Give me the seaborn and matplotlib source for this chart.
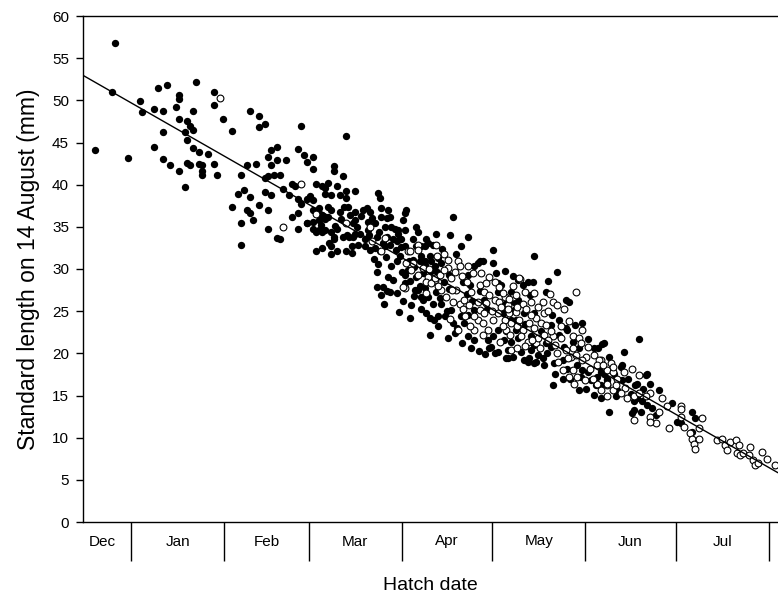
import matplotlib
matplotlib.use("Agg")
import matplotlib.pyplot as plt
import seaborn as sns
import pandas as pd
import numpy as np

# hatch date as days since 1 January (negative = December), length in mm
filled_day = [
    -12, -6.2, -5.2, -1.2, 2.9, 3.7, 7.7, 8.8, 11.8, 7.7, 10.7, 10.7, 10.7, 12.8, 15.8, 15.8, 14.8, 15.8,
    15.8, 17.8, 17.8, 18.6, 19.6, 20.5, 18.6, 20.6, 21.6, 20.6, 22.6, 18.6, 19.6, 22.6, 23.6, 23.6, 23.6,
    25.6, 27.6, 27.6, 27.6, 28.6, 30.5, 33.5, 36.5, 35.5,
    39.5, 42.5, 42.5, 44.6, 56.4, 33.5, 36.5, 37.5, 38.5, 41.5, 39.5, 38.5, 39.5, 40.5, 42.5, 44.6, 45.6,
    46.6, 45.6, 44.6, 45.6, 46.6, 48.6, 46.6, 48.6, 45.6, 47.6, 49.6, 50.6, 52.5, 53.5, 54.5, 51.4, 55.5,
    57.5, 58.5, 60.5, 60.4, 55.5, 56.5, 58.5, 59.5, 53.5, 55.5, 48.6, 49.6, 55.5, 58.5, 60.5, 61.5, 61.3,
    60.5, 60.5, 36.5,
    71.3, 63.3, 64.3, 65.3, 64.3, 66.3, 68.3, 69.3, 70.3, 67.3, 67.3, 71.3, 71.3, 74.3, 62.3, 65.3, 66.3,
    62.3, 63.3, 65.3, 69.3, 74.3, 74.3, 63.3, 64.3, 66.3, 67.3, 67.3, 66.3, 70.3, 72.3, 73.3, 74.3, 61.4,
    63.3, 66.3, 68.3, 71.3, 73.3,
    82.1, 82.7, 59.5, 72.2, 77.2, 78.3, 79.4, 83.2, 85.4, 83.2, 84.9, 91.0, 91.5, 58.4, 62.3, 68.3, 73.8,
    71.6, 73.8, 76.1, 78.8, 78.8, 81.0, 84.3, 86.5, 87.6, 88.7, 91.0, 75.5, 77.7, 79.4, 81.0, 82.7, 84.3,
    86.0, 88.2, 89.3, 94.8, 97.6, 100.3, 101.4, 94.8, 98.1, 81.6, 85.4, 83.8, 86.0, 88.2, 83.2, 91.0, 94.3,
    97.6, 96.5, 93.1, 100.3, 92.0, 97.6, 99.8, 81.6,
    107, 111.9, 120.2, 134, 115.8, 115.2,
    95.4, 109.7, 121.3, 128.5, 88.7, 89.8, 91, 93.7, 96.5, 98.7, 89.3, 93.7, 96.5, 99.2, 102, 91, 94.8, 97,
    100.9, 103.1, 95.4, 98.7, 101.4, 97, 96.5, 103.1, 106.4, 109.7, 104.2, 110.8, 114.1, 111.9, 117.4,
    121.9, 123, 126.3, 128.5, 127.4, 127.9, 121.9, 120.2, 119.6, 121.9, 125.2, 126.8, 107.5, 105.3, 102,
    99.2, 99.2, 111.9, 114.1, 118.5, 110.3, 111.9, 114.1, 116.9, 120.2, 102, 119.1, 120.8, 124.6, 131.8, 134,
    141.7, 131.8, 130.1, 132.5, 137.9, 144.5, 145.6, 150, 157.2, 153.9, 125.2, 130.7, 132.3, 134.5, 137.3,
    140.1, 148.9, 153.9, 158.3, 160.5, 121.9, 124.1, 127.4, 123.5, 126.3, 124.6, 127.9, 130.7, 134, 128.5,
    132.9, 136.2, 139.5, 142.3, 137.9, 139.5, 142.3, 145, 143.9, 146.7, 148.9, 143.4, 145, 148.3, 150,
    151.7, 152.7, 155, 156.1, 132.9, 135.1, 140.6, 143.4,
    156.6, 168.8, 163.8, 158.8, 162.7, 163.2, 171.5, 171, 168.2, 167.6, 172.6, 175.4, 156.1, 157.2, 156.1,
    158.8, 161, 167, 168.2, 169.8, 171.5, 173.2, 174.3, 166.6, 167, 179.8, 169.3,
    181.5, 182.6, 186.4, 187.5, 186.4,
    # denser part of the March-April band
    60.5, 61.8, 63.0, 64.6, 65.8, 67.9, 69.6, 70.8, 72.9, 75.1, 76.4, 77.8, 79.0, 80.2, 81.7, 82.4, 83.6,
    85.0, 85.9, 86.9, 87.9, 89.6, 90.3, 80.6, 82.2, 84.8, 86.4, 88.5, 89.9, 87.2, 85.2, 90.5, 84.1, 88.9,
    92.6,
    92.2, 94.1, 96.0, 97.8, 99.5, 101.8, 103.9, 105.6, 92.8, 94.0, 95.9, 98.0, 100.6, 102.7, 104.9, 106.9,
    108.4, 110.0, 112.8, 115.7, 117.7, 105.8, 107.9, 112.7, 116.0, 118.2, 113.2, 111.6, 103.3, 106.1,
    # May-June
    123.8, 126.2, 129.6, 131.0, 133.8, 136.8, 138.3, 141.0, 146.0, 149.5, 151.2, 154.5, 155.9, 158.0,
    161.5, 163.0, 165.0, 166.0, 170.0, 124.3, 126.9, 133.7, 138.4, 140.0, 144.5, 147.6, 152.0, 155.2,
]
filled_len = [
    44.1, 51.0, 56.8, 43.2, 49.9, 48.6, 49.0, 51.5, 51.8, 44.5, 48.7, 46.2, 43.1, 42.3, 50.6, 50.2, 49.2, 47.8,
    41.6, 39.7, 46.2, 47.5, 46.9, 46.5, 45.3, 48.7, 52.2, 44.3, 43.9, 42.6, 42.3, 42.4, 42.3, 41.6, 41.1,
    43.6, 51.0, 49.5, 42.4, 41.1, 47.8, 46.4, 41.2, 38.9,
    48.7, 48.2, 46.8, 47.2, 46.9, 37.3, 35.4, 39.4, 42.3, 42.4, 38.5, 37.0, 36.6, 35.8, 37.6, 39.1, 37.0,
    38.8, 34.8, 40.8, 41.0, 42.3, 42.9, 44.1, 44.5, 43.3, 41.2, 41.2, 39.5, 38.8, 40.1, 39.9, 42.9, 44.2,
    43.5, 42.7, 41.9, 43.3, 38.3, 37.7, 38.3, 38.6, 36.2, 36.6, 33.7, 33.5, 34.8, 35.4, 34.8, 34.4, 40.1,
    37.0, 38.2, 32.8,
    45.8, 39.9, 39.6, 40.2, 38.9, 38.8, 39.9, 38.8, 41.0, 42.2, 41.6, 39.2, 38.4, 39.2, 37.2, 37.4, 37.0,
    35.8, 36.4, 36.2, 36.8, 36.8, 35.8, 34.4, 34.6, 34.4, 33.8, 33.5, 32.7, 33.8, 33.8, 32.7, 34.2, 32.1,
    32.5, 31.8, 32.1, 32.1, 31.9,
    39.0, 38.4, 38.4, 37.4, 37.0, 37.2, 36.8, 37.2, 37.0, 36.2, 36.0, 36.6, 37.0, 35.4, 34.6, 34.8, 35.4,
    34.0, 33.8, 34.2, 34.6, 35.6, 35.4, 35.0, 35.0, 34.8, 34.6, 34.6, 32.9, 32.7, 32.3, 32.5, 32.1, 32.7,
    32.9, 33.3, 33.5, 32.7, 32.7, 32.9, 34.2, 35.0, 33.5, 29.7, 29.1, 27.9, 27.3, 27.1, 26.9, 28.3, 27.5,
    27.7, 26.7, 25.7, 25.9, 29.9, 30.5, 30.9, 27.9,
    36.2, 33.8, 32.3, 31.5, 30.9, 30.7,
    34.4, 32.7, 29.5, 28.7, 34.2, 33.5, 32.7, 33.5, 32.7, 33.1, 31.5, 31.1, 31.5, 31.5, 31.3, 29.3, 29.1, 29.5,
    30.3, 30.7, 27.5, 26.7, 27.3, 26.3, 25.3, 25.9, 25.1, 24.4, 24.4, 23.6, 25.1, 24.6, 26.3,
    27.3, 28.1, 27.3, 26.3, 25.1, 24.0, 22.8, 22.0, 20.8, 20.2, 20.4, 19.6, 22.4, 21.8, 23.2,
    24.2, 22.2, 22.0, 21.6, 21.6, 28.5, 29.3, 30.3, 30.9, 30.7, 24.4, 20.6, 20.0, 19.4, 19.0, 18.8,
    29.7, 28.5, 28.1, 26.9, 27.3, 26.3, 26.1, 23.6, 21.2, 20.6, 19.4, 19.2, 19.4, 19.0, 18.6,
    16.3, 15.7, 15.1, 16.8, 17.6, 28.3, 25.9, 26.1, 24.8, 24.0, 22.6, 22.8, 24.8, 24.8, 21.8,
    22.0, 22.6, 23.4, 24.0, 21.2, 20.8, 22.2, 22.8, 20.8, 21.4, 20.6, 19.2, 18.2, 18.6, 18.0,
    17.8, 16.8, 17.2, 16.3, 20.4, 19.8, 18.8, 17.0,
    21.1, 21.7, 20.2, 19.6, 18.4, 18.6, 17.6, 17.4, 16.4, 16.3, 16.4, 15.7, 17.8, 17.6, 14.7,
    13.1, 14.9, 14.3, 14.7, 14.3, 13.9, 13.5, 12.7, 12.9, 13.3, 14.1, 13.1,
    11.9, 11.7, 13.1, 12.3, 10.7,
    35.6, 36.9, 35.2, 35.9, 33.1, 35.1, 35.9, 37.3, 36.4, 35.0, 36.3, 33.6, 34.0, 36.0, 33.8, 34.4, 33.1,
    33.8, 36.2, 33.5, 32.2, 32.6, 35.8, 31.2, 30.6, 31.4, 30.4, 30.9, 29.6, 28.7, 27.4, 26.2, 25.9, 24.9,
    24.2,
    31.0, 30.2, 30.9, 31.0, 29.8, 29.6, 28.4, 27.6, 28.6, 26.8, 28.0, 24.8, 24.0, 26.6, 25.0, 23.6,
    23.0, 21.2, 20.6, 20.3, 19.9, 29.3, 31.8, 28.1, 27.4, 25.3, 26.2, 27.0, 32.4, 34.0,
    21.6, 21.4, 20.2, 23.5, 21.0, 19.4, 20.0, 17.6, 17.0, 17.2, 15.8, 16.2, 18.5, 17.0,
    15.6, 16.8, 17.0, 15.2, 15.8, 29.8, 29.2, 28.4, 28.6, 24.6, 23.0, 23.4, 21.7, 20.6,
]

open_day = [
    29.6, 56.5, 50.6, 61.3, 71.3, 79.9, 83.2, 92, 101.4, 91, 98.1, 100.9, 98.7, 95.4, 93.7, 129.4, 79.4, 84.3,
    95.4, 95.4, 92.6, 91.5, 93.1, 90.4, 98.1, 99.8, 100.9, 102.5, 105.3, 106.4, 105.3, 108.6, 109.2, 103.1,
    104.7, 108, 107, 109.2, 110.3, 110.8, 113, 115.8, 113.6, 116.3, 119.1, 120.8, 117.4, 119.1, 120.8, 122.4,
    124.1, 125.2, 126.8, 121.9, 124.1, 125.7, 115.2, 115.8, 117.4, 115.2, 116.9, 120.2, 114.1, 112.5, 118.5,
    124.6, 126.3,
    129, 147.8, 140.1, 141.7, 136.8, 123.5, 125.7, 127.9, 130.1, 132.9, 135.1, 125.2, 127.9, 131.2, 134.5,
    137.3, 129, 132.3, 136.2, 137.9, 130.1, 134, 137.3, 140.1, 131.8, 134.5, 135.1, 139.5, 142.8, 145.6,
    146.7, 148.9, 150, 149.4, 151.7, 151.1, 153.9, 156.1, 146.1, 147.8, 143.4, 145.6, 146.7, 148.3, 147.2,
    158.3, 160, 158.3, 160, 150, 141.7, 126.3,
    155.5, 159.4, 160, 166.6, 168.8, 163.8, 161.6, 158.3, 161, 164.3, 162.7, 158.3, 156.1, 164.9, 167, 168.8,
    172.6, 171, 176.5, 178.1, 175.4, 172.6, 174.3, 172.6, 167, 178.7, 154.9,
    182.6, 182.6, 182.8, 183.7, 185.9, 186.4, 187, 187.5, 188.6, 188.6, 189.8, 194.7, 196.4, 197.5, 198.1,
    199.2, 200.9, 202, 201.3, 202.4, 203.5, 205.7, 205.2, 206.8, 207.4, 208.5, 209.6, 211.3, 213.9,
    # denser part of the April-May band
    97.0, 99.0, 102.0, 104.0, 106.5, 107.6, 111.5, 112.2, 113.8, 118.0, 119.8, 122.8, 123.7, 125.9, 128.2,
    129.5, 133.0, 130.8, 133.2, 136.0, 138.5, 140.8, 143.0, 144.6, 142.0, 145.2, 147.0, 152.6, 154.8, 157.0,
    150.8, 153.4, 101.6, 104.0, 110.0, 112.0, 117.8, 122.3, 126.8, 128.4, 131.0, 134.0, 138.6, 139.2, 143.8,
    111.0, 106.0, 108.8, 117.0, 122.6, 128.2,
]
open_len = [
    50.3, 40.1, 35.0, 36.5, 35.4, 33.3, 32.1, 32.1, 32.9, 27.7, 27.1, 28.7, 29.1, 29.3, 30.7, 28.8, 35.0, 33.7,
    32.9, 32.3, 32.1, 30.7, 29.9, 27.9, 28.5, 28.3, 28.9, 29.3, 30.1, 28.9, 31.1, 30.9, 30.3, 27.5,
    26.7, 27.5, 26.1, 25.9, 25.3, 26.3, 27.3, 28.1, 29.5, 29.5, 29.1, 28.5, 27.3, 26.9, 26.3, 26.1,
    26.7, 25.7, 26.7, 24.8, 24.0, 24.8, 26.1, 25.1, 24.8, 24.0, 23.6, 24.0, 22.8, 23.2, 22.8,
    22.8, 23.6,
    28.9, 27.3, 26.1, 25.7, 26.1, 27.1, 26.5, 26.9, 25.9, 26.1, 25.5, 25.3, 24.9, 25.3, 24.2,
    24.8, 24.0, 23.6, 23.6, 23.4, 22.8, 23.0, 22.2, 22.0, 21.4, 21.2, 21.8, 22.6, 23.2, 23.8,
    22.0, 21.8, 22.8, 21.2, 20.8, 19.6, 19.8, 19.2, 19.6, 19.8, 18.0, 17.2, 18.0, 17.2, 16.4,
    18.0, 17.8, 16.3, 15.7, 19.2, 20.0, 20.4,
    19.2, 18.8, 18.4, 18.2, 17.4, 17.8, 17.0, 16.4, 16.3, 15.9, 15.3, 14.9, 15.7, 14.7, 14.9, 15.3,
    15.3, 14.9, 14.7, 13.7, 13.1, 12.5, 11.7, 11.9, 12.1, 11.1, 16.4,
    13.8, 13.4, 12.5, 11.3, 10.5, 9.9, 9.3, 8.7, 9.9, 11.1, 12.3, 9.7, 9.8, 9.1, 8.5,
    9.5, 9.7, 9.1, 8.2, 7.9, 8.2, 8.9, 7.9, 7.4, 6.8, 7.0, 8.3, 7.5, 6.8,
    30.1, 30.0, 28.0, 29.9, 27.5, 29.7, 28.4, 25.7, 24.4, 26.0, 25.0, 25.5, 23.2, 22.2, 23.2,
    22.0, 24.6, 20.9, 21.6, 20.6, 21.6, 21.0, 21.8, 20.4, 19.0, 19.4, 20.6, 18.2, 18.6, 18.6,
    16.8, 16.9, 31.6, 31.8, 29.2, 30.3, 28.3, 27.9, 28.0, 25.5, 27.3, 27.1, 25.0, 27.0, 25.3,
    24.4, 24.1, 22.8, 22.2, 21.3, 20.6,
]

# fitted regression line
fit_intercept = 49.7
fit_slope = -0.204

month_names = ["Dec", "Jan", "Feb", "Mar", "Apr", "May", "Jun", "Jul"]
month_starts = [0, 31, 59, 90, 120, 151, 181, 212]
month_centres = [-9.5, 15.5, 45, 74.5, 105, 135.5, 166, 196.5]

filled = pd.DataFrame({"day": filled_day, "length": filled_len})
opened = pd.DataFrame({"day": open_day, "length": open_len})

sns.set_style("white")
plt.rcParams["font.family"] = ["Liberation Sans", "DejaVu Sans"]
for key in ["text.color", "axes.labelcolor", "xtick.color", "ytick.color"]:
    plt.rcParams[key] = "black"

fig = plt.figure(figsize=(7.78, 5.96), dpi=100)
ax = fig.add_axes([83 / 778, 1 - 522 / 596, 695 / 778, 506 / 596])

sns.scatterplot(data=filled, x="day", y="length", ax=ax, color="black",
                s=28, linewidth=0, zorder=3)
sns.scatterplot(data=opened, x="day", y="length", ax=ax, facecolor="white",
                edgecolor="black", s=24, linewidth=0.8, zorder=4)
ax.axline((0, fit_intercept), slope=fit_slope, color="black", linewidth=1.0, zorder=5)

ax.set_xlim(-16, 215)
ax.set_ylim(0, 60)
ax.set_yticks(np.arange(0, 61, 5))

ax.set_xticks(month_starts)
ax.set_xticklabels([])
ax.set_xticks(month_centres, minor=True)
ax.set_xticklabels(month_names, minor=True)
ax.tick_params(axis="x", which="major", bottom=True, direction="out", length=28,
               width=1.0, color="black")
ax.tick_params(axis="x", which="minor", bottom=True, length=0, pad=9, labelsize=11)
ax.tick_params(axis="y", left=True, direction="out", length=5, width=1.0,
               color="black", labelsize=11, pad=5)

for side in ["left", "bottom", "top"]:
    ax.spines[side].set_color("black")
    ax.spines[side].set_linewidth(1.0)
ax.spines["right"].set_visible(False)

ax.set_xlabel("Hatch date", fontsize=14)
ax.xaxis.set_label_coords(0.5, -0.109)
ax.set_ylabel("Standard length on 14 August (mm)", fontsize=16.5, labelpad=9)

fig.savefig("out.png", dpi=100)
